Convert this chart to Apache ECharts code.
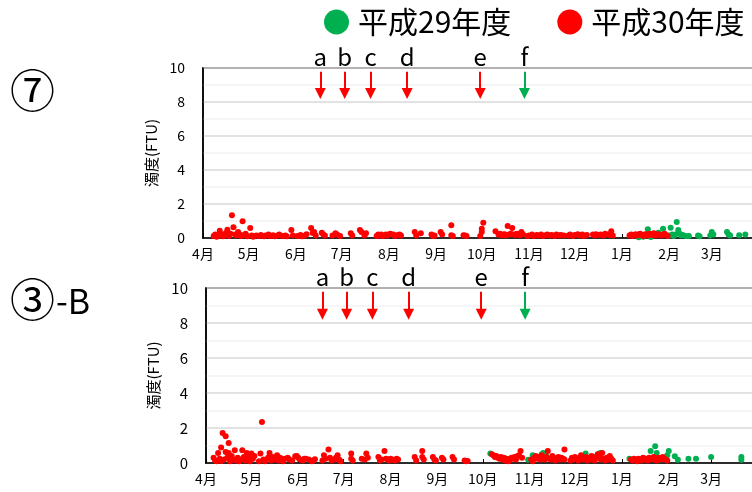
<!DOCTYPE html>
<html><head><meta charset="utf-8">
<script src="https://cdn.jsdelivr.net/npm/echarts@6/dist/echarts.min.js"></script>
<style>html,body{margin:0;padding:0;background:#fff}#c{width:752px;height:492px}</style>
</head><body><div id="c"></div>
<script>
const panelLabels = ['⑦', '③', '-B'];
const seriesNames = ['平成29年度', '平成30年度'];
const monthLabels = ['1月','2月','3月','4月','5月','6月','7月','8月','9月','10月','11月','12月'];
const yTicks = [0, 2, 4, 6, 8, 10];
const eventLetters = ['a', 'b', 'c', 'd', 'e', 'f'];
const eventDates = ['6/17', '7/3', '7/20', '8/13', '9/30', '10/29'];

// Panel ⑦ : H30 (red)
const top30 = [
['4/8',0.12],['4/9',0.2],['4/10',0.08],['4/11',0.15],['4/12',0.43],['4/13',0.22],['4/14',0.1],['4/15',0.18],['4/16',0.3],['4/17',0.49],['4/18',0.12],['4/19',0.25],['4/20',1.34],['4/21',0.63],['4/22',0.2],['4/23',0.15],['4/24',0.35],['4/25',0.22],['4/26',0.12],['4/27',0.98],['4/28',0.18],['4/29',0.25],['4/30',0.1],['5/2',0.59],['5/3',0.15],['5/4',0.08],
['5/6',0.15],['5/8',0.12],['5/9',0.18],['5/11',0.1],['5/12',0.15],['5/14',0.2],['5/15',0.12],['5/17',0.16],['5/18',0.1],['5/20',0.14],['5/21',0.2],['5/23',0.12],['5/25',0.15],['5/26',0.1],['5/29',0.47],['5/30',0.15],
['6/2',0.12],['6/4',0.18],['6/5',0.1],['6/7',0.15],['6/8',0.22],['6/11',0.59],['6/12',0.3],['6/13',0.35],['6/14',0.15],['6/18',0.31],['6/19',0.2],['6/20',0.15],['6/25',0.15],['6/27',0.28],['6/28',0.2],['6/30',0.12],
['7/7',0.28],['7/8',0.15],['7/13',0.47],['7/14',0.35],['7/16',0.15],['7/17',0.28],['7/24',0.12],['7/25',0.2],['7/26',0.15],['7/27',0.2],['7/28',0.12],['7/30',0.2],['7/31',0.15],
['8/1',0.2],['8/2',0.25],['8/4',0.2],['8/5',0.12],['8/7',0.18],['8/8',0.2],['8/9',0.15],['8/18',0.35],['8/19',0.15],['8/22',0.28],['8/29',0.2],['8/30',0.12],['8/31',0.15],
['9/4',0.35],['9/5',0.2],['9/11',0.75],['9/11',0.16],['9/12',0.12],['9/19',0.16],['9/20',0.15],['9/21',0.12],['9/30',0.12],
['10/1',0.35],['10/1',0.55],['10/2',0.9],['10/10',0.39],['10/12',0.2],['10/13',0.25],['10/14',0.16],['10/15',0.2],['10/16',0.22],['10/17',0.15],['10/18',0.71],['10/19',0.2],['10/20',0.25],['10/21',0.59],['10/22',0.2],['10/23',0.18],['10/24',0.25],['10/25',0.2],['10/26',0.16],['10/27',0.35],['10/28',0.22],['10/31',0.12],
['11/1',0.15],['11/3',0.2],['11/4',0.12],['11/6',0.18],['11/7',0.15],['11/9',0.2],['11/10',0.12],['11/12',0.16],['11/13',0.2],['11/15',0.15],['11/16',0.18],['11/18',0.12],['11/19',0.2],['11/21',0.15],['11/22',0.18],['11/24',0.15],['11/27',0.15],['11/28',0.2],['11/30',0.12],
['12/1',0.18],['12/3',0.22],['12/4',0.15],['12/6',0.2],['12/7',0.12],['12/9',0.18],['12/13',0.2],['12/14',0.15],['12/15',0.22],['12/17',0.18],['12/18',0.2],['12/20',0.15],['12/21',0.25],['12/23',0.2],['12/24',0.18],['12/25',0.39],['12/26',0.15],
['1/6',0.15],['1/7',0.2],['1/8',0.12],['1/9',0.18],['1/10',0.22],['1/11',0.15],['1/12',0.2],['1/13',0.25],['1/14',0.18],['1/15',0.12],['1/16',0.2],['1/17',0.22],['1/18',0.15],['1/19',0.25],['1/20',0.2],['1/21',0.18],['1/22',0.28],['1/23',0.15],['1/24',0.2],['1/25',0.22],['1/26',0.18],['1/27',0.15],['1/28',0.2],['1/29',0.25],['1/30',0.18],['1/31',0.12]
];
// Panel ⑦ : H29 (green)
const top29 = [
['1/12',0.05],['1/15',0.08],['1/18',0.51],['1/20',0.06],['1/25',0.31],['1/28',0.55],
['2/1',0.15],['2/2',0.61],['2/3',0.2],['2/4',0.12],['2/5',0.2],['2/6',0.94],['2/7',0.47],['2/8',0.25],['2/9',0.15],['2/10',0.18],['2/12',0.12],['2/14',0.12],['2/20',0.15],['2/21',0.1],['2/28',0.15],
['3/1',0.35],['3/2',0.2],['3/11',0.35],['3/12',0.2],['3/13',0.15],['3/19',0.16],['3/23',0.2]
];
// Panel ③-B : H30 (red)
const bot30 = [
['4/6',0.3],['4/7',0.15],['4/8',0.1],['4/9',0.57],['4/10',0.25],['4/11',0.88],['4/11',0.12],['4/12',1.72],['4/13',0.2],['4/14',0.63],['4/14',1.53],['4/15',0.3],['4/16',0.57],['4/16',1.15],['4/17',0.1],['4/18',0.4],['4/19',0.2],['4/20',0.73],['4/21',0.15],['4/22',0.3],['4/23',0.1],['4/24',0.2],['4/25',0.73],['4/26',0.35],['4/27',0.15],['4/28',0.57],['4/29',0.3],['4/30',0.1],['5/1',0.54],['5/2',0.25],['5/3',0.4],
['5/6',0.1],['5/7',0.54],['5/8',2.35],['5/9',0.2],['5/10',0.1],['5/12',0.3],['5/13',0.57],['5/14',0.15],['5/15',0.35],['5/16',0.2],['5/18',0.44],['5/19',0.15],['5/20',0.3],['5/21',0.2],['5/22',0.1],['5/23',0.25],['5/25',0.3],['5/26',0.2],['5/28',0.15],['5/30',0.38],['5/31',0.4],
['6/1',0.3],['6/2',0.2],['6/4',0.15],['6/5',0.25],['6/6',0.25],['6/8',0.2],['6/10',0.1],['6/11',0.15],['6/12',0.22],['6/17',0.15],['6/18',0.44],['6/19',0.25],['6/21',0.77],['6/22',0.3],['6/23',0.15],['6/25',0.2],['6/26',0.3],['6/27',0.44],['6/28',0.2],['6/29',0.1],
['7/6',0.54],['7/6',0.25],['7/7',0.15],['7/13',0.25],['7/15',0.2],['7/16',0.54],['7/17',0.3],['7/24',0.34],['7/25',0.15],['7/26',0.2],['7/28',0.69],['7/29',0.25],['7/30',0.2],['7/31',0.15],
['8/1',0.25],['8/2',0.2],['8/4',0.15],['8/5',0.25],['8/6',0.2],['8/17',0.34],['8/18',0.15],['8/22',0.69],['8/22',0.34],['8/23',0.2],['8/29',0.34],['8/30',0.2],['8/31',0.15],
['9/4',0.3],['9/5',0.2],['9/11',0.34],['9/12',0.2],['9/19',0.15],['9/20',0.1],['9/21',0.12],
['10/7',0.5],['10/8',0.45],['10/9',0.35],['10/10',0.4],['10/11',0.3],['10/12',0.25],['10/13',0.35],['10/14',0.2],['10/15',0.3],['10/16',0.15],['10/17',0.25],['10/18',0.1],['10/19',0.2],['10/20',0.3],['10/21',0.25],['10/22',0.35],['10/23',0.2],['10/24',0.4],['10/25',0.45],['10/26',0.69],['10/27',0.3],
['11/2',0.2],['11/3',0.1],['11/4',0.3],['11/5',0.4],['11/6',0.25],['11/7',0.35],['11/8',0.2],['11/9',0.45],['11/10',0.3],['11/11',0.2],['11/12',0.35],['11/13',0.69],['11/14',0.25],['11/15',0.2],['11/16',0.4],['11/17',0.3],['11/18',0.15],['11/19',0.25],['11/20',0.35],['11/21',0.2],['11/22',0.3],['11/23',0.25],['11/24',0.77],['11/24',0.2],['11/28',0.15],['11/29',0.3],['11/30',0.2],
['12/1',0.35],['12/2',0.25],['12/3',0.15],['12/4',0.3],['12/5',0.45],['12/6',0.2],['12/7',0.25],['12/8',0.35],['12/9',0.15],['12/10',0.3],['12/11',0.2],['12/12',0.4],['12/13',0.25],['12/14',0.15],['12/15',0.3],['12/16',0.5],['12/17',0.35],['12/18',0.2],['12/19',0.57],['12/20',0.25],['12/21',0.15],['12/22',0.3],['12/23',0.2],['12/24',0.4],['12/25',0.25],['12/26',0.15],
['1/7',0.2],['1/8',0.15],['1/9',0.25],['1/10',0.2],['1/11',0.1],['1/12',0.25],['1/13',0.2],['1/14',0.15],['1/15',0.3],['1/16',0.2],['1/17',0.25],['1/18',0.15],['1/19',0.3],['1/20',0.2],['1/21',0.25],['1/22',0.35],['1/23',0.2],['1/24',0.15],['1/25',0.3],['1/26',0.25],['1/27',0.2],['1/28',0.35],['1/29',0.25],['1/30',0.2],['1/31',0.15]
];
// Panel ③-B : H29 (green)
const bot29 = [
['10/6',0.54],['10/31',0.19],['11/3',0.44],['11/8',0.35],['11/9',0.5],['11/10',0.57],['11/12',0.4],
['12/7',0.4],['12/8',0.54],['12/10',0.2],['12/12',0.3],['12/14',0.35],['12/17',0.54],['12/18',0.57],
['1/6',0.25],['1/20',0.69],['1/23',0.96],['1/24',0.57],['1/26',0.2],['1/31',0.44],
['2/1',0.69],['2/5',0.38],['2/7',0.19],['2/14',0.25],['2/19',0.25],['3/1',0.34],['3/21',0.34],['3/21',0.19]
];

const RED = '#ff0000', GREEN = '#00b050';
const FONT = '"Noto Sans CJK JP", "Noto Sans", sans-serif';
const AXIS_MIN = '2018-04-01', AXIS_MAX = '2019-04-01';
function toDate(md) {
  const [m, d] = md.split('/').map(Number);
  const y = m >= 4 ? 2018 : 2019;
  return y + '-' + String(m).padStart(2, '0') + '-' + String(d).padStart(2, '0');
}
const pts = arr => arr.map(([md, v]) => [toDate(md), v]);
const DAY = 86400000;

function arrows(idxs, color) {
  return {
    silent: true, animation: false,
    symbol: ['none', 'triangle'], symbolSize: [11, 11],
    lineStyle: { type: 'solid', width: 2, color: color },
    label: { show: true, position: 'start', formatter: '{b}', fontSize: 24, color: '#000', fontFamily: FONT, distance: 3 },
    data: idxs.map(i => [{ name: eventLetters[i], coord: [toDate(eventDates[i]), 9.78] }, { coord: [toDate(eventDates[i]), 8.5] }])
  };
}

function xAx(gi) {
  return {
    type: 'time', gridIndex: gi, min: AXIS_MIN, max: AXIS_MAX,
    minInterval: 28 * DAY, maxInterval: 31 * DAY,
    axisLine: { lineStyle: { color: '#000', width: 1.5 } },
    axisTick: { show: true, inside: true, length: 4, lineStyle: { color: '#000' } },
    splitLine: { show: false },
    axisLabel: { fontSize: 14, color: '#000', fontFamily: FONT, margin: 9,
      formatter: v => {
        const d = new Date(v);
        if (d.getFullYear() === 2019 && d.getMonth() === 3) return '';
        return monthLabels[d.getMonth()];
      } }
  };
}
function yAx(gi, fs) {
  return {
    type: 'value', gridIndex: gi, min: yTicks[0], max: yTicks[yTicks.length - 1], interval: 2,
    name: '濁度(FTU)', nameLocation: 'middle', nameGap: 40, nameRotate: 90,
    nameTextStyle: { fontSize: 15, color: '#000', fontFamily: FONT },
    axisLine: { show: true, lineStyle: { color: '#000', width: 1.5 } },
    axisTick: { show: false },
    minorTick: { show: false, splitNumber: 2 },
    minorSplitLine: { show: true, lineStyle: { color: '#f2f2f2', width: 1.5 } },
    splitLine: { show: true, lineStyle: { color: '#d9d9d9', width: 1.5 } },
    axisLabel: { fontSize: fs, color: '#000', fontFamily: FONT, margin: 18 }
  };
}

const chart = echarts.init(document.getElementById('c'));
chart.setOption({
  animation: false,
  textStyle: { fontFamily: FONT },
  legend: {
    data: seriesNames, left: 324, top: 7, width: 428, padding: 0, icon: 'circle', itemWidth: 25, itemHeight: 25, itemGap: 46,
    textStyle: { fontSize: 30, color: '#000', fontFamily: FONT, padding: [0, 0, 0, 4] }
  },
  graphic: [
    { type: 'text', left: 10, top: 68, style: { text: panelLabels[0], fontSize: 45, fill: '#000', fontFamily: FONT } },
    { type: 'text', left: 10, top: 277, style: { text: '{c|' + panelLabels[1] + '}{t|' + panelLabels[2] + '}', fill: '#000', fontFamily: FONT,
      rich: { c: { fontSize: 45, fontFamily: FONT }, t: { fontSize: 34, fontFamily: FONT, padding: [3, 0, 0, 1] } } } }
  ],
  grid: [
    { left: 203, top: 68, width: 556, height: 170, outerBoundsMode: 'none', containLabel: false, show: true, borderColor: '#000', borderWidth: 1.5, backgroundColor: 'transparent' },
    { left: 206, top: 288, width: 552, height: 175, outerBoundsMode: 'none', containLabel: false, show: true, borderColor: '#000', borderWidth: 1.5, backgroundColor: 'transparent' }
  ],
  xAxis: [xAx(0), xAx(1)],
  yAxis: [yAx(0, 14), yAx(1, 15)],
  series: [
    { name: seriesNames[0], type: 'scatter', xAxisIndex: 0, yAxisIndex: 0, symbolSize: 6, itemStyle: { color: GREEN, opacity: 1 }, data: pts(top29), markLine: arrows([5], GREEN) },
    { name: seriesNames[1], type: 'scatter', xAxisIndex: 0, yAxisIndex: 0, symbolSize: 6, itemStyle: { color: RED, opacity: 1 }, data: pts(top30), markLine: arrows([0,1,2,3,4], RED) },
    { name: seriesNames[0], type: 'scatter', xAxisIndex: 1, yAxisIndex: 1, symbolSize: 6, itemStyle: { color: GREEN, opacity: 1 }, data: pts(bot29), markLine: arrows([5], GREEN) },
    { name: seriesNames[1], type: 'scatter', xAxisIndex: 1, yAxisIndex: 1, symbolSize: 6, itemStyle: { color: RED, opacity: 1 }, data: pts(bot30), markLine: arrows([0,1,2,3,4], RED) }
  ]
});
</script></body></html>
